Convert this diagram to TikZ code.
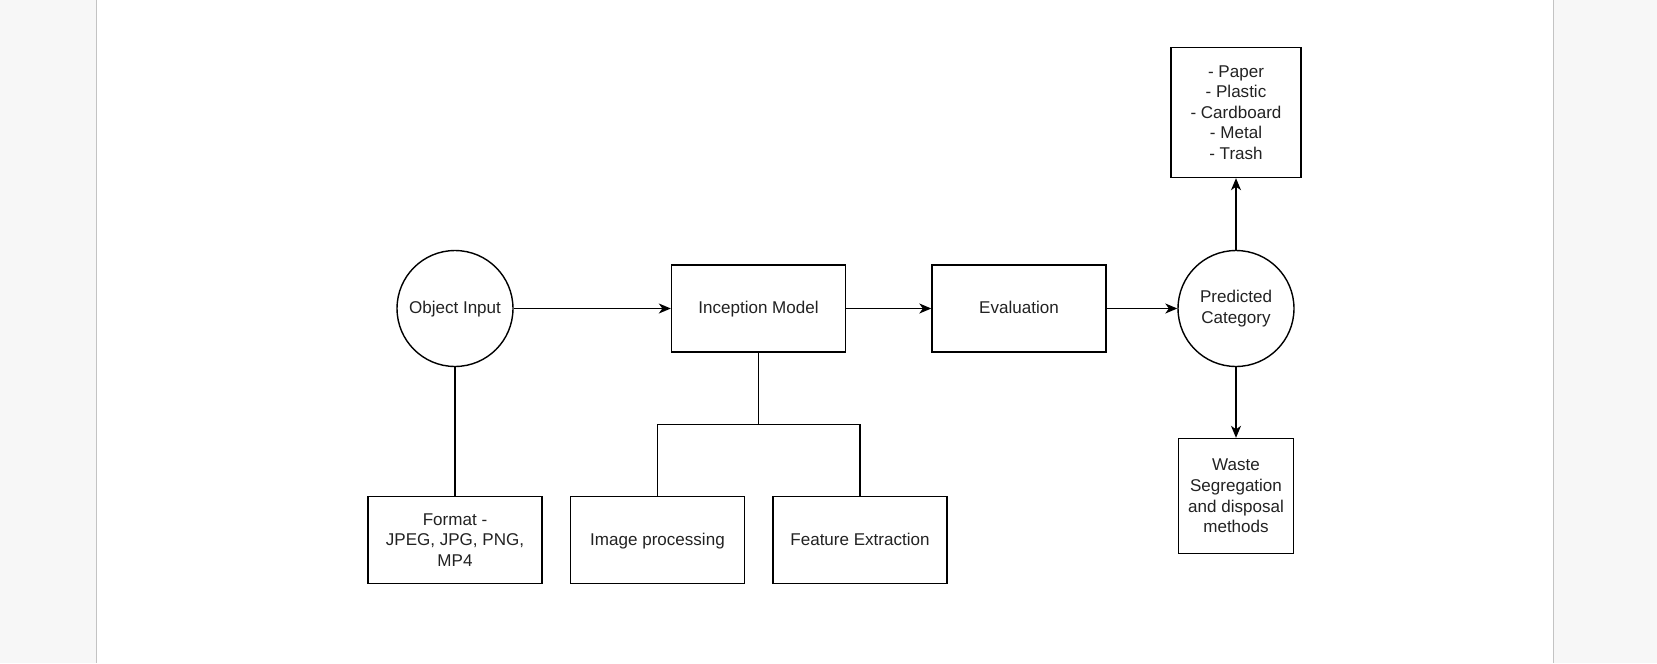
\documentclass[tikz,border=0pt]{standalone}
\usepackage{fontspec}
\setmainfont{Liberation Sans}
\usepackage{tikz}
\usetikzlibrary{positioning, arrows.meta, calc}
\definecolor{pagegray}{RGB}{247,247,247}
\definecolor{edgegray}{RGB}{195,195,195}
\definecolor{inkcolor}{RGB}{34,34,34}

\tikzset{
    box/.style={draw=black, rectangle, line width=0.8pt, fill=white, align=center, text=inkcolor},
    oneline/.style={text height=1.55ex, text depth=0.45ex},
    roundnode/.style={draw=black, circle, minimum size=2.32cm, inner sep=0pt, line width=0.8pt, fill=white, align=center, text=inkcolor},
    flow/.style={-{Stealth[length=2.4mm, width=2mm, inset=0.7mm]}, line width=0.8pt},
    link/.style={line width=0.8pt}
}

\begin{document}
\begin{tikzpicture}[x=0.02cm, y=-0.02cm, font=\fontsize{9.7}{11.7}\selectfont]
    % Page et marges
    \useasboundingbox (0,0) rectangle (1657,663);
    \fill[white] (0,0) rectangle (1657,663);
    \fill[pagegray] (0,0) rectangle (96,663);
    \fill[pagegray] (1554,0) rectangle (1657,663);
    \draw[edgegray, line width=1pt] (96.5,0) -- (96.5,663);
    \draw[edgegray, line width=1pt] (1553.5,0) -- (1553.5,663);

    % Entree
    \node[roundnode, oneline] (objin) at (455,308.5) {Object Input};
    \node[box, minimum width=3.48cm, minimum height=1.74cm] (format) at (455,540) {Format -\\JPEG, JPG, PNG,\\MP4};

    % Modele
    \node[box, oneline, minimum width=3.48cm, minimum height=1.74cm] (incep) at (758.5,308.5) {Inception Model};
    \node[box, oneline, minimum width=3.48cm, minimum height=1.74cm] (imgproc) at (657.5,540) {Image processing};
    \node[box, oneline, minimum width=3.48cm, minimum height=1.74cm] (featext) at (860,540) {Feature Extraction};
    \coordinate (split) at (758.5,424.5);

    % Evaluation et sortie
    \node[box, oneline, minimum width=3.48cm, minimum height=1.74cm] (eval) at (1019,308.5) {Evaluation};
    \node[roundnode] (predcat) at (1236,308.5) {Predicted\\Category};
    \node[box, minimum width=2.6cm, minimum height=2.6cm] (classes) at (1236,112.5) {- Paper\\- Plastic\\- Cardboard\\- Metal\\- Trash};
    \node[box, minimum width=2.3cm, minimum height=2.3cm] (waste) at (1236,496) {Waste\\Segregation\\and disposal\\methods};

    % Liaisons
    \draw[link] (objin) -- (format);
    \draw[flow] (objin) -- (incep);
    \draw[link] (incep) -- (split);
    \draw[link] (imgproc.north) |- (split) -| (featext.north);
    \draw[flow] (incep) -- (eval);
    \draw[flow] (eval) -- (predcat);
    \draw[flow] (predcat) -- (classes);
    \draw[flow] (predcat) -- (waste);
\end{tikzpicture}
\end{document}
